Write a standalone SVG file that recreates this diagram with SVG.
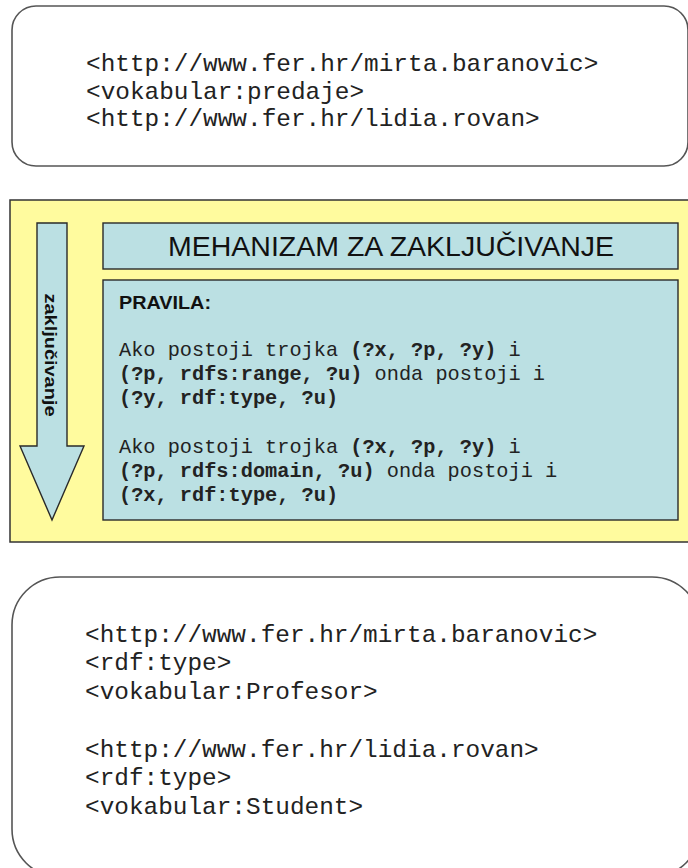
<svg xmlns="http://www.w3.org/2000/svg" width="688" height="868" viewBox="0 0 688 868">
<style>
.box{fill:#ffffff;stroke:#555555;stroke-width:1.6}
.mono{font-family:"Liberation Mono","Courier New",monospace;fill:#222222}
.big{font-size:24.4px}
.rule{font-size:20.3px}
.b{font-weight:bold}
.blue{fill:#bbe0e3;stroke:#2a2a2a;stroke-width:1.4}
.sans{font-family:"Liberation Sans",Arial,sans-serif;fill:#111111}
</style>
<rect width="688" height="868" fill="#ffffff"/>
<g id="top-box">
<rect class="box" x="12" y="6" width="676" height="160" rx="24" ry="24"/>
<text class="mono big" x="86" y="71">&lt;http://www.fer.hr/mirta.baranovic&gt;</text>
<text class="mono big" x="86" y="99">&lt;vokabular:predaje&gt;</text>
<text class="mono big" x="86" y="126">&lt;http://www.fer.hr/lidia.rovan&gt;</text>
</g>
<g id="inference-engine">
<rect x="10" y="200" width="690" height="342" fill="#fffb9e" stroke="#333333" stroke-width="1.5"/>
<g id="arrow">
<polygon class="blue" points="37,223 67,223 67,446 84,446 52,520 20,446 37,446"/>
<text class="sans b" font-size="17" text-anchor="middle" textLength="123" lengthAdjust="spacingAndGlyphs" transform="translate(45,355) rotate(90)">zaključivanje</text>
</g>
<g id="title">
<rect class="blue" x="103" y="223" width="575" height="46"/>
<text class="sans" font-size="27" x="391" y="256" text-anchor="middle" textLength="446" lengthAdjust="spacingAndGlyphs">MEHANIZAM ZA ZAKLJUČIVANJE</text>
</g>
<g id="rules">
<rect class="blue" x="103" y="280" width="575" height="240"/>
<text class="sans b" font-size="18" x="119" y="309" textLength="92" lengthAdjust="spacingAndGlyphs">PRAVILA:</text>
<text class="mono rule" x="119" y="356">Ako postoji trojka <tspan class="b">(?x, ?p, ?y)</tspan> i</text>
<text class="mono rule" x="119" y="380"><tspan class="b">(?p, rdfs:range, ?u)</tspan> onda postoji i</text>
<text class="mono rule" x="119" y="404"><tspan class="b">(?y, rdf:type, ?u)</tspan></text>
<text class="mono rule" x="119" y="453">Ako postoji trojka <tspan class="b">(?x, ?p, ?y)</tspan> i</text>
<text class="mono rule" x="119" y="477"><tspan class="b">(?p, rdfs:domain, ?u)</tspan> onda postoji i</text>
<text class="mono rule" x="119" y="501"><tspan class="b">(?x, rdf:type, ?u)</tspan></text>
</g>
</g>
<g id="bottom-box">
<rect class="box" x="12" y="577" width="688" height="300" rx="48" ry="48"/>
<text class="mono big" x="85" y="642">&lt;http://www.fer.hr/mirta.baranovic&gt;</text>
<text class="mono big" x="85" y="670">&lt;rdf:type&gt;</text>
<text class="mono big" x="85" y="699">&lt;vokabular:Profesor&gt;</text>
<text class="mono big" x="85" y="757">&lt;http://www.fer.hr/lidia.rovan&gt;</text>
<text class="mono big" x="85" y="785">&lt;rdf:type&gt;</text>
<text class="mono big" x="85" y="814">&lt;vokabular:Student&gt;</text>
</g>
</svg>
